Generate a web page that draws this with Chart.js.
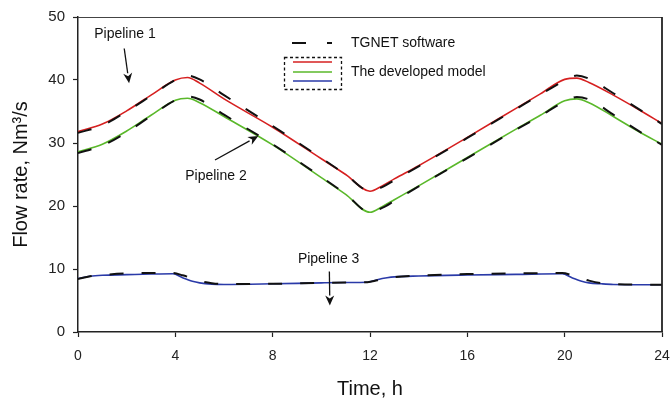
<!DOCTYPE html>
<html>
<head>
<meta charset="utf-8">
<script src="https://cdn.jsdelivr.net/npm/chart.js@4.4.1/dist/chart.umd.min.js"></script>
<style>
  html, body { margin: 0; padding: 0; background: #fff; }
  #wrap { width: 671px; height: 399px; position: relative; }
</style>
</head>
<body>
<div id="wrap"><canvas id="c" width="671" height="399"></canvas></div>
<script>
// ---- Data (time in hours, flow rate in Nm3/s) ----
const timesP12 = [0, 1, 2, 3, 4, 4.5, 5, 6, 8, 10, 11, 12, 12.5, 13, 14, 16, 18, 19, 20, 20.5, 21, 22, 23, 24];
const modelP1  = [31.8, 33.0, 35.1, 37.6, 40.0, 40.4, 39.5, 37.0, 32.5, 27.5, 25.0, 22.35, 23.2, 24.3, 26.4, 30.9, 35.5, 37.8, 40.1, 40.3, 39.6, 37.6, 35.4, 33.1];
const tgnetP1  = [31.6, 32.8, 35.0, 37.5, 40.0, 40.7, 40.1, 37.6, 32.7, 27.6, 25.0, 22.4, 23.0, 24.1, 26.3, 30.8, 35.4, 37.7, 39.9, 40.7, 40.2, 37.9, 35.5, 33.0];
const modelP2  = [28.6, 29.8, 31.9, 34.4, 36.8, 37.1, 36.4, 34.2, 29.7, 24.5, 21.85, 19.0, 19.9, 21.0, 23.2, 27.7, 32.2, 34.4, 36.7, 37.0, 36.4, 34.2, 31.9, 29.8];
const tgnetP2  = [28.4, 29.6, 31.7, 34.3, 36.8, 37.4, 36.9, 34.5, 29.8, 24.6, 21.9, 19.0, 19.7, 20.8, 23.1, 27.6, 32.1, 34.3, 36.6, 37.3, 36.9, 34.5, 32.0, 29.7];
const timesP3  = [0, 0.5, 1, 2, 3, 3.9, 4.3, 4.7, 5, 5.5, 6, 8, 10, 11, 11.9, 12.3, 12.7, 13, 14, 16, 18, 19.9, 20.3, 20.7, 21, 21.5, 22, 24];
const modelP3  = [8.5, 8.85, 9.0, 9.1, 9.2, 9.25, 8.6, 8.05, 7.8, 7.6, 7.55, 7.65, 7.8, 7.85, 7.9, 8.3, 8.6, 8.75, 8.9, 9.05, 9.15, 9.25, 8.6, 8.05, 7.8, 7.65, 7.55, 7.5];
const tgnetP3  = [8.4, 8.85, 9.05, 9.3, 9.35, 9.35, 9.0, 8.5, 8.1, 7.75, 7.6, 7.65, 7.8, 7.85, 7.9, 8.2, 8.5, 8.7, 8.95, 9.2, 9.3, 9.35, 9.0, 8.5, 8.15, 7.75, 7.6, 7.5];
const xTicks = [0, 4, 8, 12, 16, 20, 24];
const yTicks = [0, 10, 20, 30, 40, 50];

function pts(ts, vs) { return ts.map((t, i) => ({ x: t, y: vs[i] })); }

const FONT = "'Liberation Sans', Arial, sans-serif";

const annotations = [
  { text: 'Pipeline 1', tx: 1.93, ty: 47.2, ax0: 1.9, ay0: 45.0, ax1: 2.1, ay1: 39.5 },
  { text: 'Pipeline 2', tx: 5.67, ty: 24.7, ax0: 5.63, ay0: 27.3, ax1: 7.41, ay1: 31.1 },
  { text: 'Pipeline 3', tx: 10.3, ty: 11.5, ax0: 10.33, ay0: 9.6, ax1: 10.35, ay1: 4.2 }
];

const decor = {
  id: 'decor',
  afterDraw(chart) {
    const { ctx, chartArea: a, scales } = chart;
    const xs = scales.x, ys = scales.y;
    ctx.save();
    // top and right frame
    ctx.strokeStyle = '#444';
    ctx.lineWidth = 1.2;
    ctx.beginPath();
    ctx.moveTo(a.left, a.top + 0.5);
    ctx.lineTo(a.right, a.top + 0.5);
    ctx.stroke();
    ctx.strokeStyle = '#222';
    ctx.lineWidth = 1.8;
    ctx.beginPath();
    ctx.moveTo(a.right, a.top);
    ctx.lineTo(a.right, a.bottom);
    ctx.stroke();

    // annotations
    ctx.fillStyle = '#111';
    ctx.strokeStyle = '#111';
    ctx.font = '14px ' + FONT;
    ctx.textAlign = 'center';
    ctx.textBaseline = 'middle';
    annotations.forEach(an => {
      ctx.fillText(an.text, xs.getPixelForValue(an.tx), ys.getPixelForValue(an.ty));
      const x0 = xs.getPixelForValue(an.ax0), y0 = ys.getPixelForValue(an.ay0);
      const x1 = xs.getPixelForValue(an.ax1), y1 = ys.getPixelForValue(an.ay1);
      const ang = Math.atan2(y1 - y0, x1 - x0);
      const hl = 10, hw = 4.5;
      const bx = x1 - hl * Math.cos(ang), by = y1 - hl * Math.sin(ang);
      ctx.lineWidth = 1.3;
      ctx.beginPath();
      ctx.moveTo(x0, y0);
      ctx.lineTo(bx, by);
      ctx.stroke();
      ctx.beginPath();
      ctx.moveTo(x1, y1);
      ctx.lineTo(bx + hw * Math.sin(ang), by - hw * Math.cos(ang));
      ctx.lineTo(x1 - hl * 0.7 * Math.cos(ang), y1 - hl * 0.7 * Math.sin(ang));
      ctx.lineTo(bx - hw * Math.sin(ang), by + hw * Math.cos(ang));
      ctx.closePath();
      ctx.fill();
    });

    // legend
    ctx.lineWidth = 2;
    ctx.strokeStyle = '#111';
    ctx.beginPath();
    ctx.moveTo(292, 43); ctx.lineTo(306, 43);
    ctx.moveTo(327, 43); ctx.lineTo(332, 43);
    ctx.stroke();
    ctx.lineWidth = 1.5;
    [['#d62020', 62], ['#5ab82a', 72], ['#2a3aa8', 81]].forEach(([c, y]) => {
      ctx.strokeStyle = c;
      ctx.beginPath();
      ctx.moveTo(293, y); ctx.lineTo(332, y);
      ctx.stroke();
    });
    ctx.strokeStyle = '#111';
    ctx.lineWidth = 1.3;
    ctx.setLineDash([3, 2.5]);
    ctx.strokeRect(284.5, 57.5, 57, 32);
    ctx.setLineDash([]);
    ctx.fillStyle = '#111';
    ctx.font = '14px ' + FONT;
    ctx.textAlign = 'left';
    ctx.fillText('TGNET software', 351, 43);
    ctx.fillText('The developed model', 351, 72);
    ctx.restore();
  }
};

const model = (data, color) => ({
  data, borderColor: color, borderWidth: 1.6, pointRadius: 0,
  cubicInterpolationMode: 'monotone', fill: false, order: 2
});
const tg = (data) => ({
  data, borderColor: '#111', borderWidth: 2, pointRadius: 0, borderDash: [14, 18],
  cubicInterpolationMode: 'monotone', fill: false, order: 1
});

new Chart(document.getElementById('c'), {
  type: 'line',
  data: {
    datasets: [
      tg(pts(timesP12, tgnetP1)),
      tg(pts(timesP12, tgnetP2)),
      tg(pts(timesP3, tgnetP3)),
      model(pts(timesP12, modelP1), '#d62020'),
      model(pts(timesP12, modelP2), '#5ab82a'),
      model(pts(timesP3, modelP3), '#2a3aa8')
    ]
  },
  options: {
    responsive: false,
    animation: false,
    layout: { padding: { top: 17, right: 9, left: 0, bottom: 0 } },
    plugins: { legend: { display: false }, tooltip: { enabled: false } },
    scales: {
      x: {
        type: 'linear', min: 0, max: 24,
        afterBuildTicks(s) { s.ticks = xTicks.map(v => ({ value: v })); },
        afterFit(s) { s.height = 67; s.paddingRight = 0; s.paddingLeft = 0; },
        grid: { drawOnChartArea: false, drawTicks: true, tickLength: 5, color: '#222', tickWidth: 1.2 },
        border: { color: '#222', width: 1.5 },
        ticks: { color: '#222', font: { family: FONT, size: 14 }, padding: 11, maxRotation: 0 },
        title: { display: true, text: 'Time, h', color: '#111', font: { family: FONT, size: 20 }, padding: { top: 0, bottom: -2 } }
      },
      y: {
        type: 'linear', min: 0, max: 50,
        afterBuildTicks(s) { s.ticks = yTicks.map(v => ({ value: v })); },
        afterFit(s) { s.width = 78; s.paddingTop = 0; s.paddingBottom = 0; },
        grid: { drawOnChartArea: false, drawTicks: true, tickLength: 5, color: '#222', tickWidth: 1.2 },
        border: { color: '#222', width: 1.5 },
        ticks: { color: '#222', font: { family: FONT, size: 15 }, padding: 8 },
        title: { display: true, text: 'Flow rate, Nm³/s', color: '#111', font: { family: FONT, size: 20 }, padding: { top: 9, bottom: 0 } }
      }
    }
  },
  plugins: [decor]
});
</script>
</body>
</html>
